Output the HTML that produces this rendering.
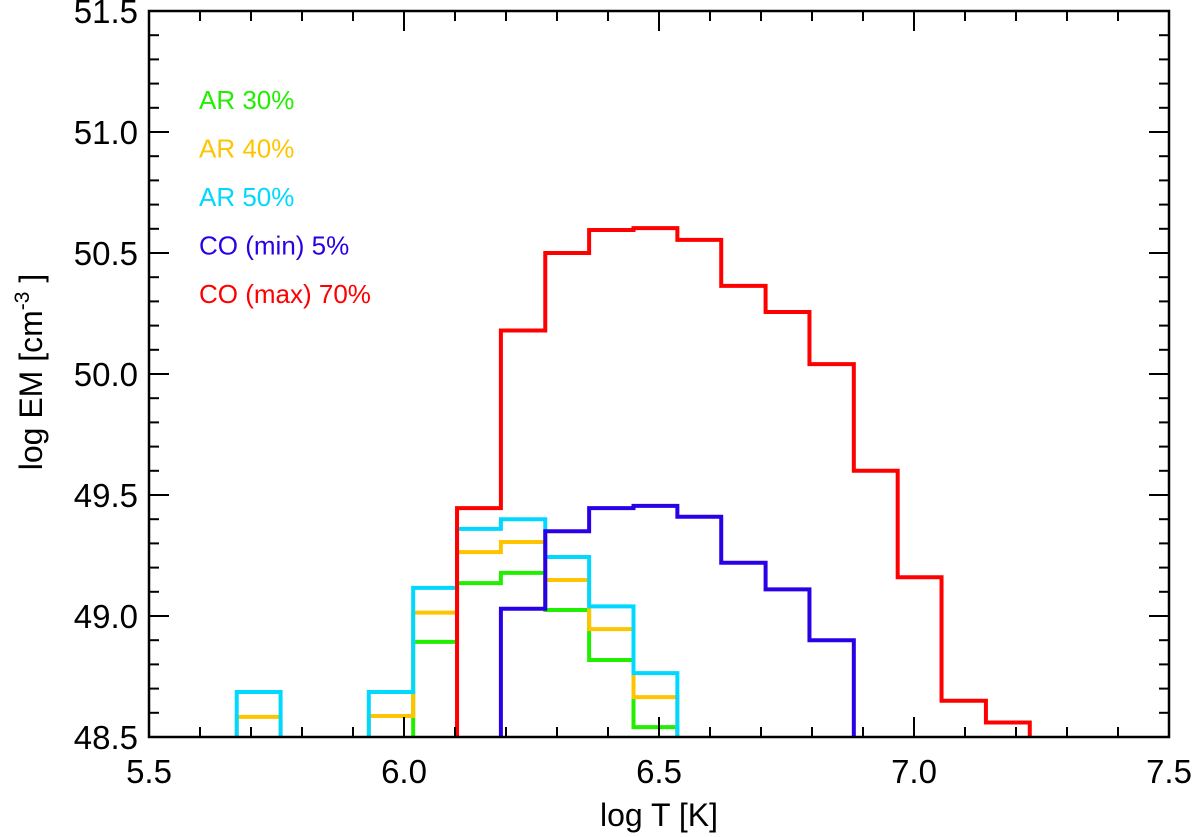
<!DOCTYPE html>
<html><head><meta charset="utf-8"><style>
html,body{margin:0;padding:0;background:#fff;}
svg{display:block;font-family:"Liberation Sans",sans-serif;}
</style></head><body>
<svg id="chart" width="1200" height="837" viewBox="0 0 1200 837" xmlns="http://www.w3.org/2000/svg">
<defs><clipPath id="plotclip"><rect x="149" y="11" width="1020" height="726"/></clipPath></defs>
<g id="series" clip-path="url(#plotclip)"></g>
<g id="axes"></g>
<g id="legend"></g>
<text x="659" y="826" font-size="32" text-anchor="middle">log T [K]</text>
<text transform="translate(42,372) rotate(-90)" font-size="32" text-anchor="middle">log EM [cm<tspan dy="-13" font-size="21">-3</tspan><tspan dy="13"> ]</tspan></text>
</svg>
<script>
const binEdges = [5.672,5.758,5.845,5.931,6.018,6.104,6.190,6.277,6.363,6.450,6.536,6.622,6.709,6.795,6.882,6.968,7.054,7.141,7.227];
const seriesNames = ["AR 30%","AR 40%","AR 50%","CO (min) 5%","CO (max) 70%"];
const seriesColors = ["#22ee00","#ffc400","#00d8ff","#2a00e6","#ff0000"];
const seriesStart = [0,0,0,6,5];
const ar30 = [48.3,48.3,48.3,48.3,48.893,49.136,49.178,49.025,48.818,48.541];
const ar40 = [48.583,48.3,48.3,48.587,49.014,49.264,49.306,49.149,48.946,48.665];
const ar50 = [48.686,48.3,48.3,48.686,49.116,49.36,49.40,49.244,49.04,48.764];
const coMin = [49.03,49.35,49.446,49.455,49.41,49.22,49.11,48.90];
const coMax = [49.446,50.18,50.50,50.595,50.603,50.554,50.364,50.256,50.041,49.60,49.16,48.65,48.56];
const xTicks = [5.5,6.0,6.5,7.0,7.5];
const xTickLabels = ["5.5","6.0","6.5","7.0","7.5"];
const yTicks = [48.5,49.0,49.5,50.0,50.5,51.0,51.5];
const yTickLabels = ["48.5","49.0","49.5","50.0","50.5","51.0","51.5"];

const X0=149,X1=1169,Y0=737,Y1=11;
const xMin=5.5,xMax=7.5,yMin=48.5,yMax=51.5;
function xs(v){return X0+(v-xMin)/(xMax-xMin)*(X1-X0);}
function ys(v){return Y0-(v-yMin)/(yMax-yMin)*(Y0-Y1);}
const NS="http://www.w3.org/2000/svg";
const allSeries=[ar30,ar40,ar50,coMin,coMax];
const sg=document.getElementById('series');
allSeries.forEach((vals,si)=>{
  const s=seriesStart[si];
  let d="M"+xs(binEdges[s])+","+(Y0+20);
  vals.forEach((v,i)=>{
    d+=" L"+xs(binEdges[s+i])+","+ys(v)+" L"+xs(binEdges[s+i+1])+","+ys(v);
  });
  d+=" L"+xs(binEdges[s+vals.length])+","+(Y0+20);
  const p=document.createElementNS(NS,'path');
  p.setAttribute('d',d);p.setAttribute('fill','none');
  p.setAttribute('stroke',seriesColors[si]);p.setAttribute('stroke-width','4');
  p.setAttribute('stroke-linejoin','miter');p.setAttribute('stroke-linecap','square');
  
  
  sg.appendChild(p);
});
const ag=document.getElementById('axes');
function line(x1,y1,x2,y2,w,name){
  const l=document.createElementNS(NS,'line');
  l.setAttribute('x1',x1);l.setAttribute('y1',y1);l.setAttribute('x2',x2);l.setAttribute('y2',y2);
  l.setAttribute('stroke','#000');l.setAttribute('stroke-width',w);
  
  
  ag.appendChild(l);
}
const fr=document.createElementNS(NS,'rect');
fr.setAttribute('x',X0);fr.setAttribute('y',Y1);fr.setAttribute('width',X1-X0);fr.setAttribute('height',Y0-Y1);
fr.setAttribute('fill','none');fr.setAttribute('stroke','#000');fr.setAttribute('stroke-width','2.5');


ag.appendChild(fr);
for(let k=0;k<=20;k++){
  const v=xMin+k*0.1, x=xs(v), len=(k%5===0)?20:10;
  line(x,Y0,x,Y0-len,2,'x-tick');
  line(x,Y1,x,Y1+len,2,'x-tick-top');
}
for(let k=0;k<=30;k++){
  const v=yMin+k*0.1, y=ys(v), len=(k%5===0)?20:10;
  line(X0,y,X0+len,y,2,'y-tick');
  line(X1,y,X1-len,y,2,'y-tick-right');
}
xTicks.forEach((v,i)=>{
  const t=document.createElementNS(NS,'text');
  t.setAttribute('x',xs(v));t.setAttribute('y',Y0+46);t.setAttribute('font-size','33');
  t.setAttribute('text-anchor','middle');t.textContent=xTickLabels[i];
  
  
  ag.appendChild(t);
});
yTicks.forEach((v,i)=>{
  const t=document.createElementNS(NS,'text');
  t.setAttribute('x',X0-11);t.setAttribute('y',ys(v)+12);t.setAttribute('font-size','33');
  t.setAttribute('text-anchor','end');t.textContent=yTickLabels[i];
  
  
  ag.appendChild(t);
});
const lg=document.getElementById('legend');
seriesNames.forEach((n,i)=>{
  const t=document.createElementNS(NS,'text');
  t.setAttribute('x',199);t.setAttribute('y',109+i*48.5);t.setAttribute('font-size','26');
  t.setAttribute('fill',seriesColors[i]);t.textContent=n;
  
  
  lg.appendChild(t);
});
</script>
</body></html>
